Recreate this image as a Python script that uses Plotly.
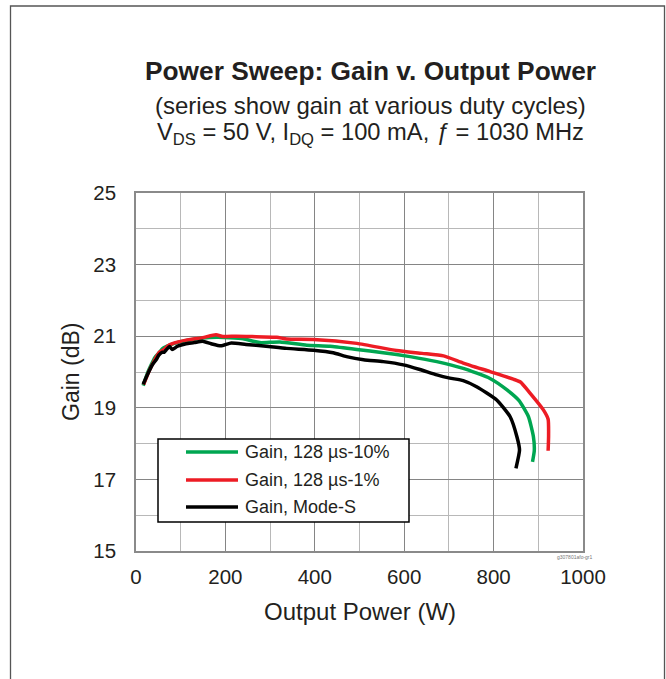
import plotly.graph_objects as go

# ---- data ----
series_names = ["Gain, 128 µs-10%", "Gain, 128 µs-1%", "Gain, Mode-S"]
series_colors = ["#00a651", "#ed1c24", "#000000"]

green_pout = [16, 25, 34, 42, 49, 60, 75, 97, 127, 150, 180, 210, 240, 265, 280, 322,
              382, 434, 494, 553, 613, 673, 732, 792, 830, 857, 878, 889, 891, 887]
green_gain = [19.62, 19.95, 20.2, 20.4, 20.5, 20.66, 20.75, 20.84, 20.91, 20.95, 20.97,
              20.96, 20.93, 20.85, 20.82, 20.84, 20.75, 20.72, 20.63, 20.54, 20.43, 20.29,
              20.10, 19.82, 19.5, 19.2, 18.75, 18.2, 17.8, 17.49]

red_pout = [17, 30, 41, 52, 63, 71, 83, 112, 149, 179, 194, 224, 260, 315, 337, 397,
            494, 583, 640, 688, 732, 792, 844, 860, 881, 911, 922, 923, 922]
red_gain = [19.65, 20.05, 20.32, 20.55, 20.63, 20.73, 20.80, 20.89, 20.96, 21.04, 20.99,
            21.0, 20.99, 20.97, 20.92, 20.91, 20.80, 20.60, 20.52, 20.45, 20.25, 20.01,
            19.80, 19.72, 19.42, 18.95, 18.68, 18.2, 17.8]

black_pout = [16, 26, 37, 45, 51, 58, 63, 69, 75, 81, 93, 112, 130, 149, 168, 190, 213,
              246, 291, 337, 397, 441, 471, 509, 553, 598, 635, 673, 702, 732, 762, 807,
              837, 852, 858, 850]
black_gain = [19.66, 19.94, 20.21, 20.34, 20.47, 20.55, 20.55, 20.64, 20.71, 20.63, 20.72,
              20.79, 20.82, 20.86, 20.79, 20.73, 20.81, 20.77, 20.72, 20.66, 20.61, 20.54,
              20.43, 20.34, 20.29, 20.20, 20.07, 19.92, 19.83, 19.76, 19.59, 19.22, 18.75,
              18.2, 17.82, 17.31]

x_ticks = [0, 200, 400, 600, 800, 1000]
y_ticks = [15, 17, 19, 21, 23, 25]

title_text = "<b>Power Sweep: Gain v. Output Power</b>"
subtitle1 = "(series show gain at various duty cycles)"
subtitle2 = "V<sub>DS</sub> = 50 V, I<sub>DQ</sub> = 100 mA, <i>ƒ</i> = 1030 MHz"
x_title = "Output Power (W)"
y_title = "Gain (dB)"
fig_code = "g307801afo-gr1"

FONT = "Liberation Sans, Arial, Helvetica, sans-serif"

# ---- layout geometry ----
W, H = 666, 679
L, R, T, B = 136, 583, 193, 551   # plot area in pixels
PW, PH = R - L, B - T


def px(x):
    return (x - L) / PW


def py(y):
    return (B - y) / PH


fig = go.Figure()
all_x = [green_pout, red_pout, black_pout]
all_y = [green_gain, red_gain, black_gain]
for xs, ys, name, col in zip(all_x, all_y, series_names, series_colors):
    fig.add_trace(go.Scatter(x=xs, y=ys, mode="lines", name=name,
                             line=dict(color=col, width=3.5, shape="spline", smoothing=0.5),
                             showlegend=False))

axis_common = dict(showline=True, mirror=True, linecolor="#8a8a8a", linewidth=1.6,
                   showgrid=True, gridcolor="#858585", gridwidth=1.4,
                   ticks="", zeroline=False,
                   tickfont=dict(family=FONT, size=20.5, color="#231f20"))

fig.update_xaxes(range=[0, 1000], tickvals=x_ticks, ticklabelstandoff=7,
                 minor=dict(dtick=100, showgrid=True, gridcolor="#b8b8b8", gridwidth=1.4),
                 **axis_common)
fig.update_yaxes(range=[15, 25], tickvals=y_ticks, ticklabelstandoff=14,
                 minor=dict(dtick=1, showgrid=True, gridcolor="#b8b8b8", gridwidth=1.4),
                 **axis_common)

shapes = []
annotations = []

# outer frame
shapes.append(dict(type="rect", xref="paper", yref="paper",
                   x0=px(10.5), x1=px(664.5), y0=py(700), y1=py(6),
                   line=dict(color="#555555", width=1.3), fillcolor="rgba(0,0,0,0)",
                   layer="above"))

# titles
cx = px(370)
annotations.append(dict(text=title_text, x=cx, y=py(71), xref="paper", yref="paper",
                        showarrow=False, xanchor="center", yanchor="middle",
                        font=dict(family=FONT, size=26.3, color="#231f20")))
annotations.append(dict(text=subtitle1, x=cx, y=py(105), xref="paper", yref="paper",
                        showarrow=False, xanchor="center", yanchor="middle",
                        font=dict(family=FONT, size=24, color="#231f20")))
annotations.append(dict(text=subtitle2, x=cx, y=py(134), xref="paper", yref="paper",
                        showarrow=False, xanchor="center", yanchor="middle",
                        font=dict(family=FONT, size=23.7, color="#231f20")))

# axis titles
annotations.append(dict(text=x_title, x=px(360), y=py(611), xref="paper", yref="paper",
                        showarrow=False, xanchor="center", yanchor="middle",
                        font=dict(family=FONT, size=24, color="#231f20")))
annotations.append(dict(text=y_title, x=px(71), y=py(372), xref="paper", yref="paper",
                        showarrow=False, xanchor="center", yanchor="middle", textangle=-90,
                        font=dict(family=FONT, size=23, color="#231f20")))

# figure code
annotations.append(dict(text=fig_code, x=px(575), y=py(557), xref="paper", yref="paper",
                        showarrow=False, xanchor="center", yanchor="middle",
                        font=dict(family=FONT, size=5, color="#777777")))

# manual legend
shapes.append(dict(type="rect", xref="paper", yref="paper",
                   x0=px(158), x1=px(409), y0=py(522), y1=py(439),
                   line=dict(color="#000000", width=1.5), fillcolor="#ffffff",
                   layer="above"))
row_y = [452, 480, 507]
for name, col, ry in zip(series_names, series_colors, row_y):
    shapes.append(dict(type="line", xref="paper", yref="paper",
                       x0=px(186), x1=px(238), y0=py(ry), y1=py(ry),
                       line=dict(color=col, width=3.5), layer="above"))
    annotations.append(dict(text=name, x=px(243), y=py(ry), xref="paper", yref="paper",
                            showarrow=False, xanchor="left", yanchor="middle",
                            font=dict(family=FONT, size=18, color="#231f20")))

fig.update_layout(width=W, height=H, autosize=False,
                  margin=dict(l=L, r=W - R, t=T, b=H - B, pad=0),
                  paper_bgcolor="white", plot_bgcolor="white",
                  shapes=shapes, annotations=annotations, showlegend=False)

fig.write_html("out.html", config={"displayModeBar": False},
               post_script="document.body.style.margin='0';"
                           "document.body.style.overflow='hidden';"
                           "document.documentElement.style.overflow='hidden';")
